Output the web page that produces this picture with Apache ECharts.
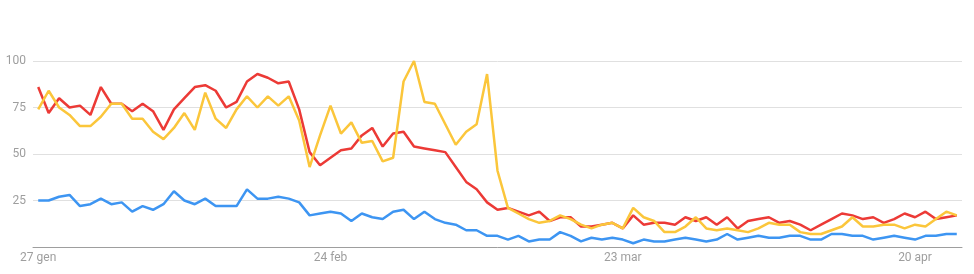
<!DOCTYPE html>
<html>
<head>
<meta charset="utf-8">
<script src="https://cdn.jsdelivr.net/npm/echarts@6/dist/echarts.min.js"></script>
<style>
html,body{margin:0;padding:0;background:#fff;}
#chart{width:974px;height:274px;}
</style>
</head>
<body>
<div id="chart"></div>
<script>
var categories = [
"27 gen","28 gen","29 gen","30 gen","31 gen",
"1 feb","2 feb","3 feb","4 feb","5 feb","6 feb","7 feb","8 feb","9 feb","10 feb","11 feb","12 feb","13 feb","14 feb","15 feb","16 feb","17 feb","18 feb","19 feb","20 feb","21 feb","22 feb","23 feb","24 feb","25 feb","26 feb","27 feb","28 feb","29 feb",
"1 mar","2 mar","3 mar","4 mar","5 mar","6 mar","7 mar","8 mar","9 mar","10 mar","11 mar","12 mar","13 mar","14 mar","15 mar","16 mar","17 mar","18 mar","19 mar","20 mar","21 mar","22 mar","23 mar","24 mar","25 mar","26 mar","27 mar","28 mar","29 mar","30 mar","31 mar",
"1 apr","2 apr","3 apr","4 apr","5 apr","6 apr","7 apr","8 apr","9 apr","10 apr","11 apr","12 apr","13 apr","14 apr","15 apr","16 apr","17 apr","18 apr","19 apr","20 apr","21 apr","22 apr","23 apr","24 apr"
];
var blueValues = [
25,25,27,28,22,23,26,23,24,19,22,20,23,30,25,23,26,22,22,22,31,26,26,27,26,24,17,18,19,
18,14,18,16,15,19,20,15,19,15,13,12,9,9,6,6,4,6,3,4,4,8,6,3,5,4,5,4,2,4,
3,3,4,5,4,3,4,7,4,5,6,5,5,6,6,4,4,7,7,6,6,4,5,6,5,4,6,6,7,7
];
var redValues = [
86,72,80,75,76,71,86,77,77,73,77,73,63,74,80,86,87,84,75,78,89,93,91,88,89,74,51,44,48,
52,53,60,64,54,61,62,54,53,52,51,43,35,31,24,20,21,19,17,19,14,16,16,11,11,12,13,10,17,12,
13,13,12,16,14,16,12,16,10,14,15,16,13,14,12,9,12,15,18,17,15,16,13,15,18,16,19,15,16,17
];
var yellowValues = [
74,84,75,71,65,65,70,77,77,69,69,62,58,64,72,63,83,69,64,74,81,75,81,76,81,68,43,60,76,
61,67,56,57,46,48,89,100,78,77,66,55,62,66,93,41,21,18,15,13,14,17,15,12,10,12,13,10,21,16,
14,8,8,11,16,10,9,10,9,8,10,13,12,12,8,7,7,9,11,16,11,11,12,12,10,12,11,15,19,17
];
var yTicks = [25, 50, 75, 100];

var chart = echarts.init(document.getElementById('chart'), null, {renderer:'canvas'});
function mk(name, data, color){
  return {name:name, type:'line', data:data, symbol:'none', smooth:false,
    lineStyle:{color:color, width:2.5}, itemStyle:{color:color}};
}
chart.setOption({
  animation:false,
  grid:{left:33, right:12, top:61, bottom:27},
  xAxis:{
    type:'category', data:categories, boundaryGap:true,
    axisLine:{lineStyle:{color:'#9e9e9e', width:1}},
    axisTick:{show:false},
    axisLabel:{
      interval:function(i){ return i % 28 === 0; },
      color:'#9e9e9e', fontFamily:'Roboto', fontSize:12, margin:5
    },
    splitLine:{show:false}
  },
  yAxis:{
    type:'value', min:0, max:100, interval:25,
    axisLine:{show:false}, axisTick:{show:false},
    axisLabel:{color:'#9e9e9e', fontFamily:'Roboto', fontSize:12, margin:7,
      formatter:function(v){ return yTicks.indexOf(v) >= 0 ? String(v) : ''; }},
    splitLine:{lineStyle:{color:'#e0e0e0', width:1}}
  },
  series:[
    mk('blu', blueValues, '#3d95f2'),
    mk('rosso', redValues, '#ec3a36'),
    mk('giallo', yellowValues, '#fbc63b')
  ]
});
</script>
</body>
</html>
